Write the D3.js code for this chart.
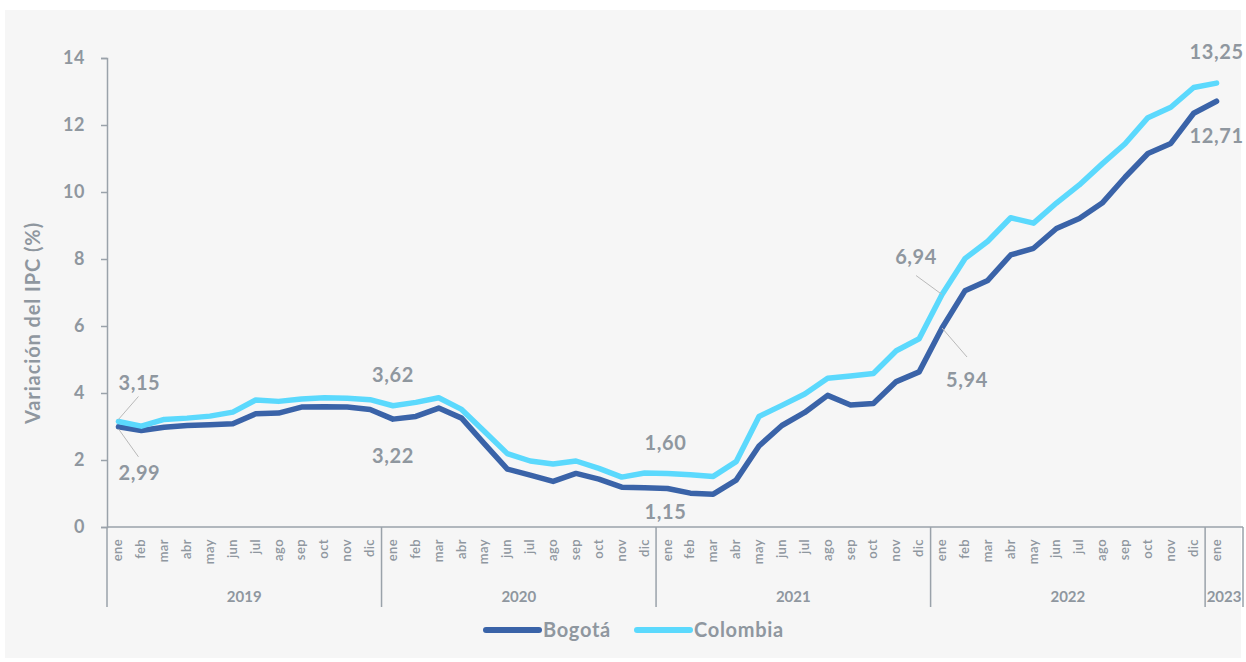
<!DOCTYPE html>
<html>
<head>
<meta charset="utf-8">
<script src="https://cdn.jsdelivr.net/npm/d3@7"></script>
<style>
  body { margin: 0; background: #fff; }
  svg text { font-family: Lato, "Open Sans", sans-serif; font-weight: 700; }
</style>
</head>
<body>
<div id="chart"></div>
<script>
// data (variación anual IPC, %)
const years = ['2019', '2020', '2021', '2022', '2023'];
const monthNames = ['ene','feb','mar','abr','may','jun','jul','ago','sep','oct','nov','dic'];
const monthsPerYear = [12, 12, 12, 12, 1];

const bogota = [
  2.99, 2.88, 2.98, 3.03, 3.05, 3.08, 3.38, 3.40, 3.58, 3.59, 3.58, 3.51,
  3.22, 3.30, 3.55, 3.25, 2.48, 1.73, 1.55, 1.36, 1.60, 1.43, 1.19, 1.17,
  1.15, 1.01, 0.98, 1.40, 2.42, 3.03, 3.42, 3.93, 3.64, 3.69, 4.34, 4.63,
  5.94, 7.05, 7.36, 8.12, 8.32, 8.91, 9.21, 9.67, 10.44, 11.15, 11.45, 12.35,
  12.71
];
const colombia = [
  3.15, 3.01, 3.21, 3.25, 3.31, 3.43, 3.79, 3.75, 3.82, 3.86, 3.84, 3.80,
  3.62, 3.72, 3.86, 3.51, 2.85, 2.19, 1.97, 1.88, 1.97, 1.75, 1.49, 1.61,
  1.60, 1.56, 1.51, 1.95, 3.30, 3.63, 3.97, 4.44, 4.51, 4.58, 5.26, 5.62,
  6.94, 8.01, 8.53, 9.23, 9.07, 9.67, 10.21, 10.84, 11.44, 12.22, 12.53, 13.12,
  13.25
];
const yTicks = [0, 2, 4, 6, 8, 10, 12, 14];

// build category keys "2019-ene" ...
const cats = [];
years.forEach((y, i) => {
  for (let m = 0; m < monthsPerYear[i]; m++) cats.push({ key: y + '-' + monthNames[m], year: y, month: monthNames[m] });
});

const W = 1246, H = 662;
const gray = '#8f979f';
const axisGray = '#9aa2aa';

const svg = d3.select('#chart').append('svg')
  .attr('width', W).attr('height', H);

svg.append('rect')
  .attr('x', 5).attr('y', 10)
  .attr('width', 1236).attr('height', 648)
  .attr('fill', '#f6f6f6');

const x = d3.scaleBand()
  .domain(cats.map(d => d.key))
  .range([107, 1228]);

const y = d3.scaleLinear()
  .domain([0, 14])
  .range([527, 58]);

const cx = k => x(k) + x.bandwidth() / 2;

// y axis
const yAxis = svg.append('g')
  .attr('transform', 'translate(107,0)')
  .call(d3.axisLeft(y).tickValues(yTicks).tickSize(6).tickPadding(16));
yAxis.select('.domain').attr('stroke', axisGray).attr('stroke-width', 1.5);
yAxis.selectAll('.tick line').attr('stroke', axisGray).attr('stroke-width', 1.5);
yAxis.selectAll('.tick text')
  .attr('fill', gray)
  .style('font-size', '18px')
  .style('font-family', 'Lato, sans-serif')
  .style('font-weight', 700)
  .style('letter-spacing', '0.5px');

svg.append('text')
  .attr('transform', 'translate(40,323) rotate(-90)')
  .attr('text-anchor', 'middle')
  .attr('fill', gray)
  .style('font-size', '20px')
  .style('letter-spacing', '0.9px')
  .text('Variación del IPC (%)');

// x axis: base line + month labels + year groups
const xRight = 1243;
svg.append('line')
  .attr('x1', 107).attr('x2', xRight)
  .attr('y1', y(0)).attr('y2', y(0))
  .attr('stroke', axisGray).attr('stroke-width', 1.5);

svg.append('g').selectAll('text')
  .data(cats)
  .join('text')
  .attr('transform', d => `translate(${cx(d.key) + 4},${y(0) + 12}) rotate(-90)`)
  .attr('text-anchor', 'end')
  .attr('fill', gray)
  .style('font-size', '13px')
  .style('font-weight', 600)
  .style('letter-spacing', '0.4px')
  .text(d => d.month);

const groups = years.map((yr, i) => {
  const keys = cats.filter(c => c.year === yr).map(c => c.key);
  const x0 = x(keys[0]);
  let x1 = x(keys[keys.length - 1]) + x.bandwidth();
  if (i === years.length - 1) x1 = xRight;
  return { yr, x0, x1 };
});

const sepX = [groups[0].x0].concat(groups.map(g => g.x1));
svg.append('g').selectAll('line')
  .data(sepX)
  .join('line')
  .attr('x1', d => d).attr('x2', d => d)
  .attr('y1', y(0)).attr('y2', y(0) + 80)
  .attr('stroke', axisGray).attr('stroke-width', 1.5);

svg.append('g').selectAll('text')
  .data(groups)
  .join('text')
  .attr('x', d => (d.x0 + d.x1) / 2)
  .attr('y', y(0) + 75)
  .attr('text-anchor', 'middle')
  .attr('fill', gray)
  .style('font-size', '15px')
  .text(d => d.yr);

// lines
const series = [
  { name: 'Bogotá', values: bogota, color: '#3a63a8' },
  { name: 'Colombia', values: colombia, color: '#5bd9fd' }
];

const line = d3.line()
  .x((d, i) => cx(cats[i].key))
  .y(d => y(d));

svg.append('g').selectAll('path')
  .data(series)
  .join('path')
  .attr('d', d => line(d.values))
  .attr('fill', 'none')
  .attr('stroke', d => d.color)
  .attr('stroke-width', 5.5)
  .attr('stroke-linejoin', 'round')
  .attr('stroke-linecap', 'round');

// data labels
const fmt = v => d3.format('.2f')(v).replace('.', ',');
const labels = [
  { s: bogota, i: 0, dx: 0, dy: 53, anchor: 'start', lead: [[0, 2], [20, 30]] },
  { s: colombia, i: 0, dx: 0, dy: -31, anchor: 'start', lead: [[0, -2], [20, -25]] },
  { s: bogota, i: 12, dx: 0, dy: 44, anchor: 'middle' },
  { s: colombia, i: 12, dx: 0, dy: -24, anchor: 'middle' },
  { s: bogota, i: 24, dx: -2, dy: 31, anchor: 'middle' },
  { s: colombia, i: 24, dx: -2, dy: -23, anchor: 'middle' },
  { s: bogota, i: 36, dx: 4, dy: 59, anchor: 'start', lead: [[0, 0], [25, 29]] },
  { s: colombia, i: 36, dx: -5, dy: -31, anchor: 'end', lead: [[0, 0], [-26, -19]] },
  { s: bogota, i: 48, dx: 0, dy: 42, anchor: 'middle' },
  { s: colombia, i: 48, dx: 0, dy: -24, anchor: 'middle' }
];

const lab = svg.append('g');
labels.forEach(l => {
  const px = cx(cats[l.i].key), py = y(l.s[l.i]);
  if (l.lead) {
    lab.append('line')
      .attr('x1', px + l.lead[0][0]).attr('y1', py + l.lead[0][1])
      .attr('x2', px + l.lead[1][0]).attr('y2', py + l.lead[1][1])
      .attr('stroke', '#b9b9b9').attr('stroke-width', 1);
  }
  lab.append('text')
    .attr('x', px + l.dx)
    .attr('y', py + l.dy)
    .attr('text-anchor', l.anchor)
    .attr('fill', gray)
    .style('font-size', '20px')
    .style('letter-spacing', '0.6px')
    .text(fmt(l.s[l.i]));
});

// legend
const legend = svg.append('g').attr('transform', 'translate(0,630)');
const legX = [486, 637];
series.forEach((s, i) => {
  legend.append('line')
    .attr('x1', legX[i]).attr('x2', legX[i] + 53)
    .attr('y1', 0).attr('y2', 0)
    .attr('stroke', s.color).attr('stroke-width', 6)
    .attr('stroke-linecap', 'round');
  legend.append('text')
    .attr('x', legX[i] + 57)
    .attr('y', 7)
    .attr('fill', gray)
    .style('font-size', '20px')
    .style('letter-spacing', '0.7px')
    .text(s.name);
});
</script>
</body>
</html>
